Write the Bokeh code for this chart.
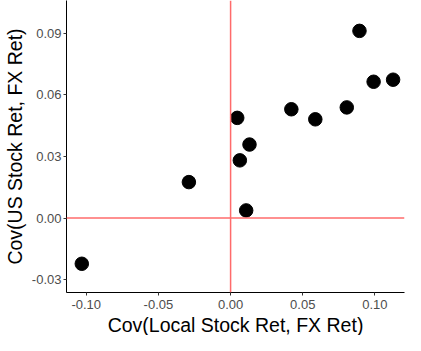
from bokeh.plotting import figure
from bokeh.models import Span, FixedTicker, NumeralTickFormatter, ColumnDataSource, Range1d, Title
from bokeh.embed import file_html
from bokeh.resources import INLINE

# Data
local_fx_cov = [-0.1031, -0.0289, 0.0046, 0.0064, 0.0131, 0.0108, 0.0421, 0.0587, 0.0805, 0.0893, 0.0991, 0.1126]
us_fx_cov = [-0.0223, 0.0175, 0.0488, 0.0281, 0.0358, 0.0037, 0.0530, 0.0481, 0.0539, 0.0912, 0.0664, 0.0674]
x_ticks = [-0.10, -0.05, 0.00, 0.05, 0.10]
y_ticks = [-0.03, 0.00, 0.03, 0.06, 0.09]
x_title = "Cov(Local Stock Ret, FX Ret)"
y_title = "Cov(US Stock Ret, FX Ret)"

src = ColumnDataSource(data=dict(x=local_fx_cov, y=us_fx_cov))

p = figure(width=405, height=335, output_backend="svg", toolbar_location=None,
           x_range=Range1d(-0.1137, 0.1205), y_range=Range1d(-0.0363, 0.1060),
           min_border_left=59, min_border_right=1, min_border_top=0, min_border_bottom=0)

p.outline_line_color = None
p.xgrid.grid_line_color = None
p.ygrid.grid_line_color = None
p.background_fill_color = "white"
p.border_fill_color = "white"

p.add_layout(Span(location=0, dimension="width", line_color="#FF6B6B", line_width=1.5))
p.add_layout(Span(location=0, dimension="height", line_color="#FF6B6B", line_width=1.5))

p.scatter("x", "y", source=src, size=13.5, fill_color="black", line_color="black")

for ax, ticks in ((p.xaxis[0], x_ticks), (p.yaxis[0], y_ticks)):
    ax.ticker = FixedTicker(ticks=ticks)
    ax.formatter = NumeralTickFormatter(format="0.00")
    ax.axis_line_color = "black"
    ax.axis_line_width = 1
    ax.major_tick_line_color = "#333333"
    ax.major_tick_in = 0
    ax.major_tick_out = 3
    ax.minor_tick_line_color = None
    ax.major_label_text_font = "Liberation Sans"
    ax.major_label_text_font_size = "13px"
    ax.major_label_text_color = "#4D4D4D"
    ax.axis_label_text_font = "Liberation Sans"
    ax.axis_label_text_font_size = "19.5px"
    ax.axis_label_text_font_style = "normal"
    ax.axis_label_text_color = "black"

p.yaxis.axis_label = y_title
p.xaxis.major_label_standoff = 4
p.yaxis.major_label_standoff = 2
p.yaxis.axis_label_standoff = 3

xt = Title(text=x_title, align="center", text_font="Liberation Sans",
           text_font_size="19.5px", text_font_style="normal", text_color="black",
           standoff=0, offset=4)
p.add_layout(xt, "below")

open("out.html", "w").write(file_html(p, INLINE))
